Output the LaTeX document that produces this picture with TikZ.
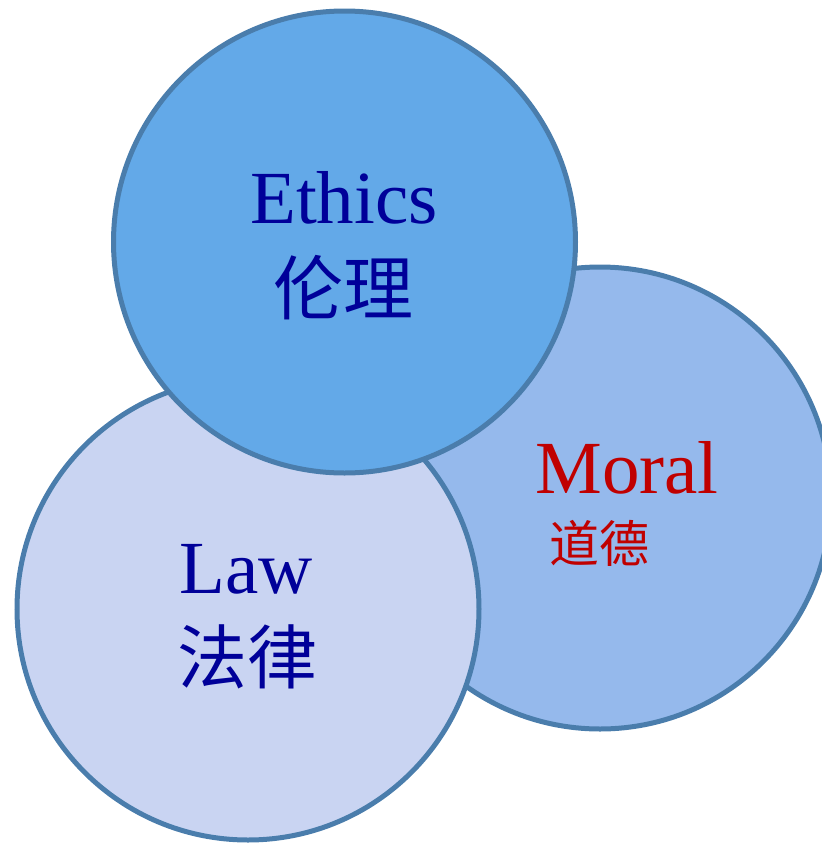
\documentclass[tikz,border=0pt]{standalone}
\usepackage{fontspec}
\setmainfont{Liberation Serif}
\newfontfamily\cjk{Noto Sans CJK SC}
\definecolor{rimblue}{HTML}{4A7DAC}
\definecolor{ethicsfill}{HTML}{63A9E8}
\definecolor{moralfill}{HTML}{95B9EC}
\definecolor{lawfill}{HTML}{C9D4F2}
\definecolor{navytext}{HTML}{000099}
\definecolor{redtext}{HTML}{C00000}
\begin{document}
\begin{tikzpicture}[x=1pt,y=-1pt,
  bubble/.style={circle,draw=rimblue,line width=5pt,inner sep=0pt,minimum size=462pt},
  latin/.style={anchor=base,inner sep=0pt,font=\fontsize{75}{80}\selectfont},
  hanzi/.style={inner sep=0pt,font=\cjk\fontsize{#1}{#1}\selectfont}]
\useasboundingbox (0,0) rectangle (822,844);
% back to front: Moral, Law, Ethics
\node[bubble,fill=moralfill] (moral) at (600,498) {};
\node[bubble,fill=lawfill] (law) at (248,609) {};
\node[bubble,fill=ethicsfill] (ethics) at (344.5,242) {};
% labels
\node[latin,text=navytext] (ethicsen) at (344,223) {Ethics};
\node[hanzi=70,text=navytext] (ethicszh) at (343,288) {伦理};
\node[latin,text=redtext] (moralen) at (627,493) {Moral};
\node[hanzi=50,text=redtext] (moralzh) at (599,543) {道德};
\node[latin,text=navytext] (lawen) at (246,593) {Law};
\node[hanzi=70,text=navytext] (lawzh) at (247,657) {法律};
\end{tikzpicture}
\end{document}
